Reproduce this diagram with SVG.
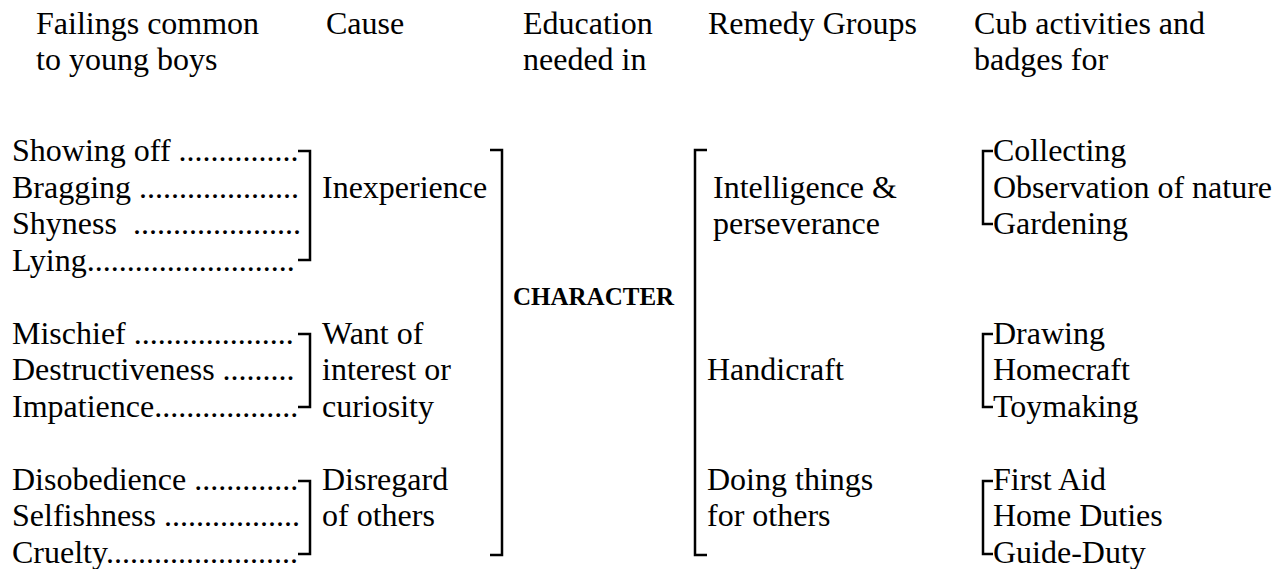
<svg xmlns="http://www.w3.org/2000/svg" width="1283" height="569" viewBox="0 0 1283 569">
<style>
text{font-family:"Liberation Serif","Times New Roman",serif;font-size:32px;fill:#000;white-space:pre}
.b{font-weight:bold;font-size:25px}
.br{fill:none;stroke:#000;stroke-width:2.5;stroke-linejoin:miter}
</style>
<rect width="1283" height="569" fill="#fff"/>
<g id="headers">
<text x="36" y="34">Failings common</text>
<text x="36" y="70">to young boys</text>
<text x="326" y="34">Cause</text>
<text x="523" y="34">Education</text>
<text x="523" y="70">needed in</text>
<text x="708" y="34">Remedy Groups</text>
<text x="974" y="34">Cub activities and</text>
<text x="974" y="70">badges for</text>
</g>
<g id="failings-1">
<text x="12" y="161" xml:space="preserve">Showing off ...............</text>
<text x="12" y="197.5" xml:space="preserve">Bragging ....................</text>
<text x="12" y="234" xml:space="preserve">Shyness  .....................</text>
<text x="12" y="270.5" xml:space="preserve">Lying..........................</text>
</g>
<g id="failings-2">
<text x="12" y="343.5" xml:space="preserve">Mischief ....................</text>
<text x="12" y="380" xml:space="preserve">Destructiveness .........</text>
<text x="12" y="416.5" xml:space="preserve">Impatience..................</text>
</g>
<g id="failings-3">
<text x="12" y="489.5" xml:space="preserve">Disobedience .............</text>
<text x="12" y="526" xml:space="preserve">Selfishness .................</text>
<text x="12" y="562.5" xml:space="preserve">Cruelty........................</text>
</g>
<g id="cause-1"><text x="322" y="197.5">Inexperience</text></g>
<g id="cause-2">
<text x="322" y="343.5">Want of</text>
<text x="322" y="380">interest or</text>
<text x="322" y="416.5">curiosity</text>
</g>
<g id="cause-3">
<text x="322" y="489.5">Disregard</text>
<text x="322" y="526">of others</text>
</g>
<g id="education"><text class="b" x="513" y="305">CHARACTER</text></g>
<g id="remedy-1">
<text x="713" y="197.5">Intelligence &amp;</text>
<text x="713" y="234">perseverance</text>
</g>
<g id="remedy-2"><text x="707" y="380">Handicraft</text></g>
<g id="remedy-3">
<text x="707" y="489.5">Doing things</text>
<text x="707" y="526">for others</text>
</g>
<g id="cub-1">
<text x="993" y="161">Collecting</text>
<text x="993" y="197.5">Observation of nature</text>
<text x="993" y="234">Gardening</text>
</g>
<g id="cub-2">
<text x="993" y="343.5">Drawing</text>
<text x="993" y="380">Homecraft</text>
<text x="993" y="416.5">Toymaking</text>
</g>
<g id="cub-3">
<text x="993" y="489.5">First Aid</text>
<text x="993" y="526">Home Duties</text>
<text x="993" y="562.5">Guide-Duty</text>
</g>
<g id="connectors">
<polyline class="br" points="298,151 310,151 310,260 298,260"/>
<polyline class="br" points="298,334 310,334 310,407 298,407"/>
<polyline class="br" points="298,481 310,481 310,554 298,554"/>
<polyline class="br" points="490,150 502,150 502,555 490,555"/>
<polyline class="br" points="707,150 695,150 695,555 707,555"/>
<polyline class="br" points="993,151 983,151 983,224 993,224"/>
<polyline class="br" points="993,334 983,334 983,407 993,407"/>
<polyline class="br" points="993,481 983,481 983,554 993,554"/>
</g>
</svg>
